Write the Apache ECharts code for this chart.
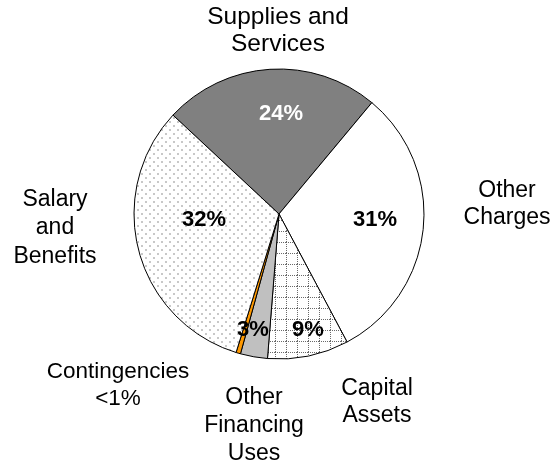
<!DOCTYPE html>
<html>
<head>
<meta charset="utf-8">
<script src="https://cdn.jsdelivr.net/npm/echarts@6/dist/echarts.min.js"></script>
<style>
  html, body { margin: 0; padding: 0; background: #fff; }
  #chart { width: 553px; height: 468px; }
</style>
</head>
<body>
<div id="chart"></div>
<script>
// budget shares, clockwise from the top-left
var categories = ['Supplies and\nServices', 'Other\nCharges', 'Capital\nAssets', 'Other\nFinancing\nUses', 'Contingencies\n<1%', 'Salary\nand\nBenefits']
var shares = [24, 31, 9, 3, 0.5, 32]
var pctLabels = ['24%', '31%', '9%', '3%', '', '32%']

// label centres (px) - inner percent text and outer category names
var innerPos = [[281, 114], [375, 220], [308, 330], [253, 330], [0, 0], [204, 220]]
var outerPos = [[278, 31], [507, 204], [377, 402], [254, 426], [118, 385], [55, 228]]
var outerSize = [24.5, 23, 23, 23, 22.5, 23]
var outerLine = [27, 27, 27, 28, 27, 28.5]

function dotPattern () {
  var c = document.createElement('canvas')
  c.width = 8; c.height = 8
  var g = c.getContext('2d')
  g.fillStyle = '#fff'
  g.fillRect(0, 0, 8, 8)
  g.fillStyle = '#c8c8c8'
  g.fillRect(1, 1, 2, 2)
  g.fillRect(5, 5, 2, 2)
  return c
}

function gridPattern () {
  var c = document.createElement('canvas')
  c.width = 11; c.height = 11
  var g = c.getContext('2d')
  g.fillStyle = '#fff'
  g.fillRect(0, 0, 11, 11)
  g.fillStyle = '#6a6a6a'
  for (var i = 0; i < 11; i += 2) {
    g.fillRect(i, 0, 1, 1) // horizontal dotted line
    g.fillRect(0, i, 1, 1) // vertical dotted line
  }
  return c
}

var fills = [
  '#808080',
  '#ffffff',
  { image: gridPattern(), repeat: 'repeat' },
  '#c0c0c0',
  '#ff9900',
  { image: dotPattern(), repeat: 'repeat' }
]

var font = 'Liberation Sans, Arial, sans-serif'

var myChart = echarts.init(document.getElementById('chart'))
var option = {
  animation: false,
  series: [
    {
      type: 'pie',
      center: [279, 214],
      radius: 145,
      startAngle: 137,
      clockwise: true,
      avoidLabelOverlap: false,
      silent: true,
      data: shares.map(function (v, i) {
        return { value: v, name: categories[i], itemStyle: { color: fills[i] } }
      }),
      itemStyle: { borderColor: '#000', borderWidth: 1 },
      label: {
        show: true,
        position: 'inside',
        fontFamily: font,
        fontWeight: 'bold',
        fontSize: 22,
        color: '#000',
        formatter: function (p) { return pctLabels[p.dataIndex] }
      },
      labelLine: { show: false },
      labelLayout: function (p) {
        var pos = innerPos[p.dataIndex]
        return { x: pos[0], y: pos[1], align: 'center', verticalAlign: 'middle' }
      }
    },
    {
      type: 'pie',
      center: [279, 214],
      radius: 145,
      startAngle: 137,
      clockwise: true,
      avoidLabelOverlap: false,
      silent: true,
      data: shares.map(function (v, i) {
        return {
          value: v,
          name: categories[i],
          label: { fontSize: outerSize[i], lineHeight: outerLine[i] }
        }
      }),
      itemStyle: { color: 'transparent', borderWidth: 0 },
      label: {
        show: true,
        position: 'outside',
        fontFamily: font,
        color: '#000',
        align: 'center',
        formatter: '{b}'
      },
      labelLine: { show: false },
      labelLayout: function (p) {
        var pos = outerPos[p.dataIndex]
        return { x: pos[0], y: pos[1], align: 'center', verticalAlign: 'middle' }
      }
    }
  ]
}
// white text on the dark slice
option.series[0].data[0].label = { color: '#fff' }
myChart.setOption(option)
</script>
</body>
</html>
